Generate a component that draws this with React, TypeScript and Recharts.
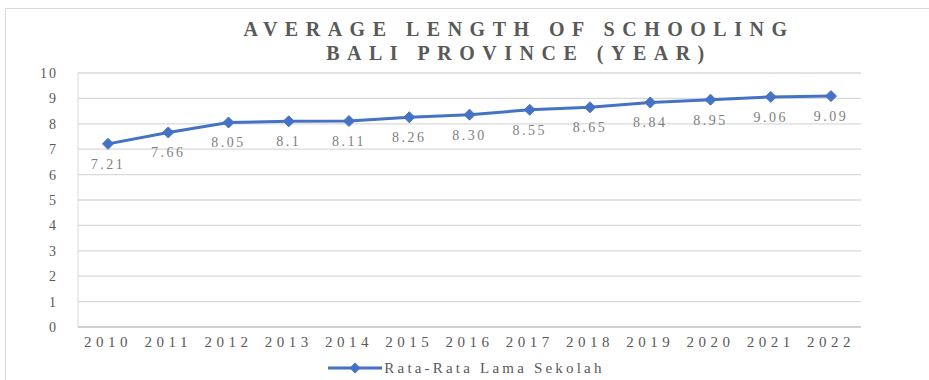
import React from 'react';
import { LineChart, Line, XAxis, YAxis, CartesianGrid, Legend, LabelList } from 'recharts';

const years = ['2010', '2011', '2012', '2013', '2014', '2015', '2016', '2017', '2018', '2019', '2020', '2021', '2022'];
const schooling = [7.21, 7.66, 8.05, 8.1, 8.11, 8.26, 8.36, 8.55, 8.65, 8.84, 8.95, 9.06, 9.09];
const labels = ['7.21', '7.66', '8.05', '8.1', '8.11', '8.26', '8.30', '8.55', '8.65', '8.84', '8.95', '9.06', '9.09'];
const yTicks = [0, 1, 2, 3, 4, 5, 6, 7, 8, 9, 10];

const seriesName = 'Rata-Rata Lama Sekolah';
const blue = '#4472C4';
const grey = '#595959';
const serif = '"Liberation Serif", "Times New Roman", serif';

const chartData = years.map((y, i) => ({ year: y, value: schooling[i], label: labels[i] }));

const Diamond = (props: any) => {
  const { cx, cy } = props;
  if (cx == null || cy == null) return null;
  const r = 5.5;
  return (
    <polygon
      points={`${cx},${cy - r} ${cx + r},${cy} ${cx},${cy + r} ${cx - r},${cy}`}
      fill={blue}
      stroke={blue}
      strokeWidth={1}
    />
  );
};

const LegendContent = () => (
  <div style={{ height: 22, display: 'flex', justifyContent: 'center', alignItems: 'center', paddingLeft: 34 }}>
    <svg width={54} height={14} style={{ marginRight: 2 }}>
      <line x1={0} y1={7} x2={54} y2={7} stroke={blue} strokeWidth={3} />
      <polygon points="27,1.5 32.5,7 27,12.5 21.5,7" fill={blue} />
    </svg>
    <span style={{ fontFamily: serif, fontSize: 15, color: grey, letterSpacing: 3.2 }}>{seriesName}</span>
  </div>
);

export default function App() {
  return (
    <div
      style={{
        position: 'absolute',
        left: 5,
        top: 8,
        width: 924,
        height: 372,
        boxSizing: 'border-box',
        borderLeft: '1px solid #d9d9d9',
        borderTop: '1px solid #d9d9d9',
        background: '#fff',
      }}
    >
      <div
        style={{
          position: 'absolute',
          left: 213,
          top: 8,
          width: 600,
          textAlign: 'center',
          fontFamily: serif,
          fontWeight: 'bold',
          fontSize: 20,
          lineHeight: '24px',
          letterSpacing: 7.5,
          color: grey,
        }}
      >
        AVERAGE LENGTH OF SCHOOLING
        <br />
        BALI PROVINCE (YEAR)
      </div>
      <LineChart
        width={923}
        height={371}
        data={chartData}
        margin={{ top: 64, right: 68, left: 32, bottom: 1 }}
      >
        <CartesianGrid vertical={false} stroke="#d9d9d9" strokeWidth={1.3} />
        <XAxis
          dataKey="year"
          padding={{ left: 30, right: 30 }}
          tickLine={false}
          tickSize={0}
          tickMargin={9}
          height={30}
          axisLine={{ stroke: '#bfbfbf' }}
          tick={{ fill: grey, fontFamily: serif, fontSize: 15, letterSpacing: 4.5 }}
        />
        <YAxis
          domain={[0, 10]}
          ticks={yTicks}
          interval={0}
          width={40}
          tickLine={false}
          tickSize={0}
          tickMargin={20}
          axisLine={{ stroke: '#d9d9d9' }}
          tick={{ fill: grey, fontFamily: serif, fontSize: 14, letterSpacing: 2 }}
        />
        <Legend verticalAlign="bottom" content={<LegendContent />} />
        <Line
          type="linear"
          dataKey="value"
          name={seriesName}
          stroke={blue}
          strokeWidth={3}
          dot={<Diamond />}
          activeDot={false}
          isAnimationActive={false}
        >
          <LabelList
            dataKey="label"
            position="bottom"
            offset={15}
            fill="#7f7f7f"
            style={{ fontFamily: serif, fontSize: 14, letterSpacing: 2.5 }}
          />
        </Line>
      </LineChart>
    </div>
  );
}
